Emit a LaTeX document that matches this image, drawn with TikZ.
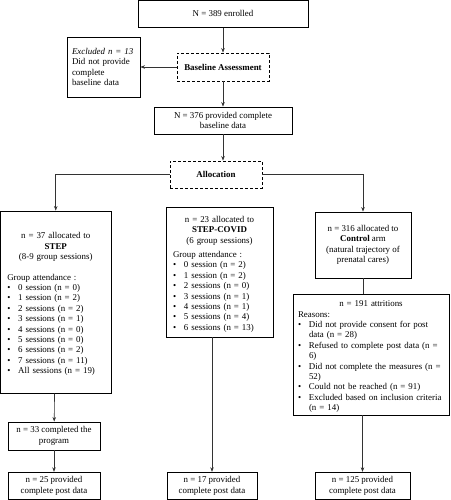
\documentclass[tikz,border=0pt]{standalone}
\usepackage{fontspec}
\setmainfont{Liberation Serif}
\usepackage{tikz}
\usetikzlibrary{arrows.meta,shapes}
\tikzstyle{box}=[solid,rectangle,draw,line width=0.9pt,inner sep=0pt,align=center,font=\fontsize{8.9}{10.4}\selectfont]
\tikzstyle{dashbox}=[box,dash pattern=on 3pt off 2pt,font=\fontsize{8.9}{10.4}\selectfont\bfseries]
\tikzstyle{listbox}=[box,align=left]
\tikzstyle{arrow}=[solid,draw,black!80,line width=0.6pt,-{Stealth[length=4.5pt,width=3.5pt]}]
\tikzstyle{line}=[solid,draw,black!80,line width=0.6pt,-]
\newcommand{\bitem}[1]{\par\noindent\hangindent=11pt\hangafter=1\makebox[11pt][l]{\textbullet}#1}
\newcommand{\ctr}[1]{\par\noindent\makebox[\linewidth]{#1}}

\begin{document}
\begin{tikzpicture}[x=1pt,y=-1pt]
	\useasboundingbox (0,0) rectangle (450,500);
	\node[box,minimum width=170pt,minimum height=27pt] (enrolled) at (223,13.75) {N = 389 enrolled};
	\node[dashbox,minimum width=92pt,minimum height=28pt] (base) at (223,67) {Baseline Assessment};
	\node[listbox,minimum width=73pt,minimum height=60pt,text width=63pt] (excl) at (103.5,67) {%
		\mbox{\textit{Excluded n = 13}}\\\mbox{Did not provide}\\complete\\\mbox{baseline data}};
	\node[box,minimum width=138pt,minimum height=27pt] (n376) at (223,120.5) {N = 376 provided complete\\baseline data};
	\node[dashbox,minimum width=92pt,minimum height=27pt] (alloc) at (216,174.5) {Allocation};
	\node[listbox,minimum width=111pt,minimum height=182pt,text width=97pt] (step) at (55.75,302) {%
		\ctr{n = 37 allocated to}\ctr{\textbf{STEP}}\ctr{(8-9 group sessions)}\vspace{10pt}
		\noindent Group attendance :
		\bitem{0 session (n = 0)}
		\bitem{1 session (n = 2)}
		\bitem{2 sessions (n = 2)}
		\bitem{3 sessions (n = 1)}
		\bitem{4 sessions (n = 0)}
		\bitem{5 sessions (n = 0)}
		\bitem{6 sessions (n = 2)}
		\bitem{7 sessions (n = 11)}
		\bitem{All sessions (n = 19)}\par};
	\node[listbox,minimum width=107pt,minimum height=130pt,text width=93pt] (covid) at (219.5,272) {%
		\ctr{n = 23 allocated to}\ctr{\textbf{STEP-COVID}}\ctr{(6 group sessions)}\vspace{4pt}
		\noindent Group attendance :
		\bitem{0 session (n = 2)}
		\bitem{1 session (n = 2)}
		\bitem{2 sessions (n = 0)}
		\bitem{3 sessions (n = 1)}
		\bitem{4 sessions (n = 1)}
		\bitem{5 sessions (n = 4)}
		\bitem{6 sessions (n = 13)}\par};
	\node[box,minimum width=96pt,minimum height=66pt] (ctrl) at (363,245) {%
		n = 316 allocated to\\\textbf{Control} arm\\(natural trajectory of\\prenatal cares)};
	\node[listbox,minimum width=156pt,minimum height=121pt,text width=146pt] (attr) at (371,354.5) {%
		\ctr{n = 191 attritions}
		\noindent Reasons:
		\bitem{\mbox{Did not provide consent for post}\newline data (n = 28)}
		\bitem{\mbox{Refused to complete post data (n =}\newline 6)}
		\bitem{\mbox{Did not complete the measures (n =}\newline 52)}
		\bitem{\mbox{Could not be reached (n = 91)}}
		\bitem{\mbox{Excluded based on inclusion criteria}\newline (n = 14)}\par};
	\node[box,minimum width=92pt,minimum height=28pt] (n33) at (54,436) {n = 33 completed the\\program};
	\node[box,minimum width=92pt,minimum height=27pt] (n25) at (54,485.75) {n = 25 provided\\complete post data};
	\node[box,minimum width=90pt,minimum height=27pt] (n17) at (212,485.75) {n = 17 provided\\complete post data};
	\node[box,minimum width=95pt,minimum height=27pt] (n125) at (362.5,485.75) {n = 125 provided\\complete post data};
	% flow
	\path[arrow] (enrolled) -- (base);
	\path[arrow] (base) -- (excl);
	\path[arrow] (base) -- (n376);
	\path[arrow] (n376.south) -- (n376.south |- alloc.north);
	\path[arrow] (alloc.west) -| (step.north);
	\path[arrow] (alloc.east) -| (ctrl.north);
	\path[arrow] (step) -- (n33);
	\path[arrow] (n33) -- (n25);
	\path[arrow] (covid.south -| n17.north) -- (n17.north);
	\path[line] (ctrl.south) -- (ctrl.south |- attr.north);
	\path[arrow] (attr.south -| n125.north) -- (n125.north);
\end{tikzpicture}
\end{document}
